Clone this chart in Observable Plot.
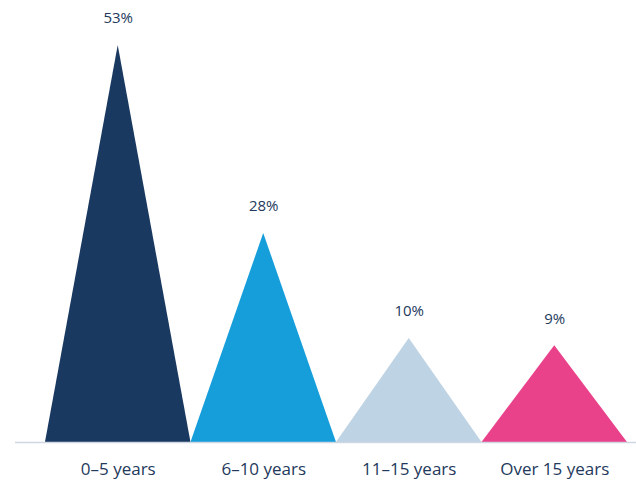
<!DOCTYPE html>
<html>
<head>
<meta charset="utf-8">
<script src="https://cdn.jsdelivr.net/npm/d3@7"></script>
<script src="https://cdn.jsdelivr.net/npm/@observablehq/plot@0.6"></script>
<style>
  html, body { margin: 0; padding: 0; background: #fff; }
  svg { display: block; }
</style>
</head>
<body>
<div id="chart"></div>
<script>
const categories = ["0–5 years", "6–10 years", "11–15 years", "Over 15 years"];
const shares = [53, 28, 10, 9];            // labelled values (%)
const peakHeights = [53, 27.9, 13.9, 12.9]; // drawn triangle heights
const colors = ["#1a3961", "#169edb", "#bed3e4", "#e9418a"];

const rows = categories.map((c, i) => ({cat: c, i, share: shares[i], h: peakHeights[i]}));
const tri = rows.flatMap(d => [
  {cat: d.cat, x: d.i, y: 0},
  {cat: d.cat, x: d.i + 0.5, y: d.h},
  {cat: d.cat, x: d.i + 1, y: 0}
]);

const plot = Plot.plot({
  width: 636,
  height: 481,
  marginLeft: 15,
  marginRight: 0,
  marginTop: 45,
  marginBottom: 39,
  style: {fontFamily: "'Open Sans', sans-serif", background: "#fff"},
  x: {domain: [-0.206, 4.062], axis: null},
  y: {domain: [0, 53], axis: null},
  color: {domain: categories, range: colors},
  marks: [
    Plot.areaY(tri, {x: "x", y: "y", z: "cat", fill: "cat", curve: "linear"}),
    Plot.ruleY([0], {stroke: "#cfd8e2", strokeWidth: 1.5}),
    Plot.text(rows, {x: d => d.i + 0.5, y: "h", text: d => d.share + "%", dy: -27, fontSize: 15, fill: "#23395b"}),
    Plot.text(rows, {x: d => d.i + 0.5, y: 0, text: "cat", dy: 27, fontSize: 17, fill: "#23395b"})
  ]
});
document.getElementById("chart").appendChild(plot);
</script>
</body>
</html>
